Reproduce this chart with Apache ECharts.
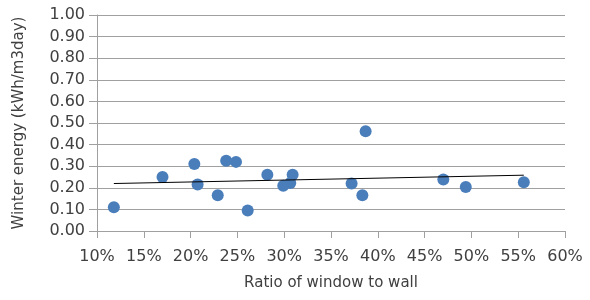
<!DOCTYPE html>
<html>
<head>
<meta charset="utf-8">
<script src="https://cdn.jsdelivr.net/npm/echarts@6/dist/echarts.min.js"></script>
<style>
  html, body { margin: 0; padding: 0; background: #fff; }
  #main { width: 590px; height: 300px; }
</style>
</head>
<body>
<div id="main"></div>
<script>
// ratio of window to wall (%), winter energy (kWh/m3day)
var ratios = [11.8, 17.0, 20.4, 20.75, 22.9, 23.8, 24.85, 26.1, 28.2, 29.9, 30.65, 30.9, 37.2, 38.35, 38.7, 47.0, 49.4, 55.6];
var energy = [0.11, 0.25, 0.31, 0.215, 0.165, 0.325, 0.32, 0.095, 0.26, 0.21, 0.222, 0.26, 0.22, 0.165, 0.462, 0.238, 0.204, 0.226];

onload = function () {
    var points = ratios.map(function (r, i) { return [r, energy[i]]; });

    // linear trendline (least squares), drawn over the data range
    var n = ratios.length, sx = 0, sy = 0, sxx = 0, sxy = 0;
    for (var i = 0; i < n; i++) {
        sx += ratios[i]; sy += energy[i];
        sxx += ratios[i] * ratios[i]; sxy += ratios[i] * energy[i];
    }
    var slope = (n * sxy - sx * sy) / (n * sxx - sx * sx);
    var icpt = (sy - slope * sx) / n;
    var xMin = Math.min.apply(null, ratios), xMax = Math.max.apply(null, ratios);
    var trend = [[xMin, icpt + slope * xMin], [xMax, icpt + slope * xMax]];

    var font = 'DejaVu Sans';
    var myChart = echarts.init(document.getElementById('main'));
    myChart.setOption({
        backgroundColor: '#fff',
        animation: false,
        grid: { left: 97, right: 25, top: 15, bottom: 69 },
        xAxis: {
            type: 'value',
            min: 10, max: 60, interval: 5,
            name: 'Ratio of window to wall',
            nameLocation: 'middle',
            nameGap: 45,
            nameTextStyle: { fontFamily: font, fontSize: 15, color: '#404040' },
            axisLine: { lineStyle: { color: '#a0a0a0', width: 1 } },
            axisTick: { show: true, length: 7, lineStyle: { color: '#a0a0a0' } },
            axisLabel: {
                margin: 18, fontFamily: font, fontSize: 16, color: '#404040',
                formatter: function (v) { return v + '%'; }
            },
            splitLine: { show: false }
        },
        yAxis: {
            type: 'value',
            min: 0, max: 1, interval: 0.1,
            name: 'Winter energy (kWh/m3day)',
            nameLocation: 'middle',
            nameGap: 70,
            nameTextStyle: { fontFamily: font, fontSize: 15, color: '#404040' },
            axisLine: { show: true, lineStyle: { color: '#a0a0a0', width: 1 } },
            axisTick: { show: true, length: 8, lineStyle: { color: '#a0a0a0' } },
            axisLabel: {
                margin: 12, fontFamily: font, fontSize: 16, color: '#404040',
                formatter: function (v) { return v.toFixed(2); }
            },
            splitLine: { show: true, lineStyle: { color: '#a0a0a0', width: 1 } }
        },
        series: [{
            type: 'scatter',
            data: points,
            symbolSize: 12,
            itemStyle: { color: '#4a7ebb', opacity: 1 },
            z: 3
        }, {
            type: 'line',
            data: trend,
            showSymbol: false,
            lineStyle: { color: '#000', width: 1 },
            z: 4
        }]
    });
};
</script>
</body>
</html>
